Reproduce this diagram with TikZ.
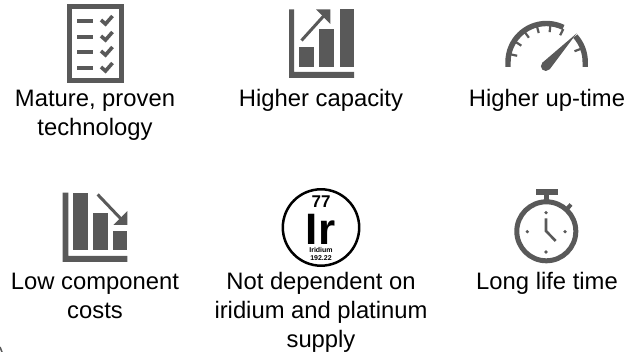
\documentclass[tikz,border=0pt]{standalone}
\usepackage{fontspec}
\setmainfont{Liberation Sans}
\definecolor{ic}{HTML}{595959}
\tikzset{
 x=1pt,y=-1pt,
 lbl/.style={inner sep=0pt,font=\fontsize{23.8}{28.8}\selectfont,anchor=base,text=black},
 tiny/.style={inner sep=0pt,font=\fontsize{7}{7}\bfseries\selectfont,anchor=base},
 icl/.style={draw=ic,line cap=butt},
}
\begin{document}
\begin{tikzpicture}
\useasboundingbox (0,0) rectangle (628,352);
% checklist
\draw[icl,line width=5pt] (69,7) rectangle (121.7,80.5);
\foreach \yy in {21,37,52,68}{
 \fill[ic] (77,\yy-2) rectangle (93,\yy+2);
 \draw[icl,line width=3.6pt] (101,\yy-1) -- (105.5,\yy+3) -- (112.5,\yy-5);
}
% capacity
\fill[ic] (289,9.5) -- (294,9.5) -- (294,72) -- (354,72) -- (354,78) -- (289,78) -- cycle;
\fill[ic] (299.3,46.7) rectangle (314.3,66.7);
\fill[ic] (319.3,29.3) rectangle (334.3,66.7);
\fill[ic] (340,9.3) rectangle (354,66.7);
\draw[icl,line width=3pt] (301.5,40.5) -- (325,14.5);
\fill[ic] (316,9.3) -- (330.3,9.3) -- (330.3,24) -- cycle;
% gauge
\draw[icl,line width=5.4pt] (508,67) -- (508,62) arc[start angle=180,end angle=296,radius=38.5];
\draw[icl,line width=5.4pt] (585.2,67) -- (585.2,62) arc[start angle=360,end angle=318,radius=38.7];
\foreach \a in {168,147,126,105,84,63,21}{
 \draw[icl,line width=2.2pt] (546.5,62) ++(-\a:37) -- ++(-\a:-7);
}
\fill[ic] (576.7,33.3) -- (549.5,69.5) -- (542,63) -- cycle;
\fill[ic] (545.7,66.2) circle[radius=4.8];
% low cost
\fill[ic] (62.7,192.7) -- (68.3,192.7) -- (68.3,256) -- (127.3,256) -- (127.3,262) -- (62.7,262) -- cycle;
\fill[ic] (73.3,193.3) rectangle (88.3,250);
\fill[ic] (93.3,213.3) rectangle (107.7,250);
\fill[ic] (113.3,231) rectangle (127.3,250);
\draw[icl,line width=3pt] (97.7,194.5) -- (122,220);
\fill[ic] (127.3,211) -- (127.3,225) -- (113.3,225) -- cycle;
% iridium
\draw[black,line width=2.5pt] (321,227.5) circle[radius=38.2];
\node[inner sep=0pt,font=\fontsize{17}{17}\bfseries\selectfont] (n77) at (321,201.5) {77};
\node[inner sep=0pt,font=\fontsize{44}{44}\bfseries\selectfont,anchor=base] (sym) at (320.5,244.5) {Ir};
\node[tiny] (irn) at (321,253) {Iridium};
\node[tiny] (irw) at (321,260.7) {192.22};
% stopwatch
\fill[ic] (535.7,189.3) rectangle (557.7,195);
\fill[ic] (544.3,195) rectangle (549,201);
\draw[icl,line width=5pt] (546.3,231.3) circle[radius=29.5];
\draw[icl,line width=4pt] (566,210) -- (571,204.5);
\fill[ic] (546,212.7) circle[radius=1.8];
\fill[ic] (527.3,231.7) circle[radius=1.8];
\fill[ic] (565,231.7) circle[radius=1.8];
\fill[ic] (546,252) circle[radius=1.8];
\draw[icl,line width=2.6pt] (546,218.3) -- (546,231) -- (555.7,241);
% corner
\draw[ic,line width=1.5pt] (0,347) -- (2,352);
% labels
\node[lbl] (t1a) at (95,107) {Mature, proven};
\node[lbl] (t1b) at (95,136) {technology};
\node[lbl] (t2) at (321,107) {Higher capacity};
\node[lbl] (t3) at (547,107) {Higher up-time};
\node[lbl] (t4a) at (95,289) {Low component};
\node[lbl] (t4b) at (95,318) {costs};
\node[lbl] (t5a) at (321,289) {Not dependent on};
\node[lbl] (t5b) at (321,318) {iridium and platinum};
\node[lbl] (t5c) at (321,347) {supply};
\node[lbl] (t6) at (547,289) {Long life time};
\end{tikzpicture}
\end{document}
